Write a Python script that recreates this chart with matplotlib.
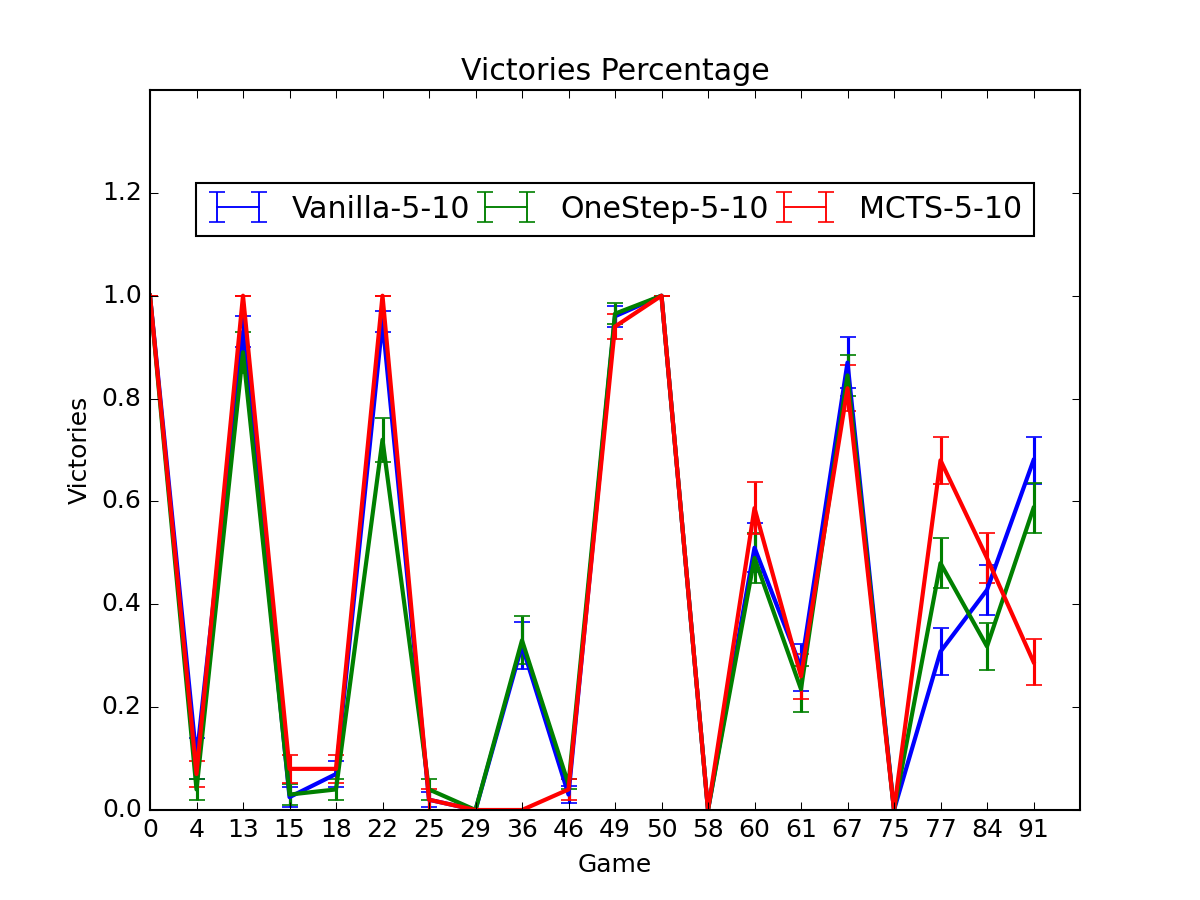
import numpy as np
import matplotlib
matplotlib.use("Agg")
import matplotlib.pyplot as plt
from matplotlib.lines import Line2D
from matplotlib.collections import LineCollection

plt.style.use("classic")

# ==============================
# DATOS
# ==============================

games = [0, 4, 13, 15, 18, 22, 25, 29, 36, 46, 49, 50, 58, 60, 61, 67, 75, 77, 84, 91]

vanilla = [1.0, 0.10, 0.93, 0.025, 0.07, 0.95, 0.02, 0.0, 0.32, 0.03, 0.96, 1.0,
           0.0, 0.51, 0.277, 0.87, 0.0, 0.308, 0.428, 0.68]
vanilla_err = [0.0, 0.04, 0.03, 0.02, 0.025, 0.02, 0.015, 0.0, 0.045, 0.017, 0.02, 0.0,
               0.0, 0.048, 0.045, 0.05, 0.0, 0.045, 0.049, 0.046]

onestep = [1.0, 0.04, 0.89, 0.03, 0.04, 0.72, 0.04, 0.0, 0.33, 0.05, 0.965, 1.0,
           0.0, 0.49, 0.235, 0.845, 0.0, 0.48, 0.318, 0.587]
onestep_err = [0.0, 0.02, 0.04, 0.02, 0.02, 0.043, 0.02, 0.0, 0.047, 0.01, 0.02, 0.0,
               0.0, 0.049, 0.045, 0.04, 0.0, 0.049, 0.046, 0.048]

mcts = [1.0, 0.07, 1.0, 0.08, 0.08, 1.0, 0.02, 0.0, 0.0, 0.04, 0.94, 1.0,
        0.0, 0.587, 0.26, 0.82, 0.0, 0.68, 0.49, 0.288]
mcts_err = [0.0, 0.026, 0.0, 0.027, 0.027, 0.0, 0.02, 0.0, 0.0, 0.02, 0.024, 0.0,
            0.0, 0.05, 0.044, 0.045, 0.0, 0.046, 0.049, 0.044]

# ==============================
# GRAFICA
# ==============================

x = np.arange(len(games))

fig = plt.figure(figsize=(8, 6))
ax = fig.add_subplot(111)

series = [
    (vanilla, vanilla_err, "b", "Vanilla-5-10"),
    (onestep, onestep_err, "g", "OneStep-5-10"),
    (mcts, mcts_err, "r", "MCTS-5-10"),
]

for vals, errs, color, label in series:
    ax.errorbar(x, vals, yerr=errs, color=color, linewidth=2,
                elinewidth=1.5, capsize=4, capthick=0.8, label=label)

ax.set_xticks(x)
ax.set_xticklabels([str(g) for g in games])
ax.set_xlim(0, 20)
ax.set_ylim(0, 1.4)
ax.set_yticks([0.0, 0.2, 0.4, 0.6, 0.8, 1.0, 1.2])

ax.set_xlabel("Game")
ax.set_ylabel("Victories")
ax.set_title("Victories Percentage")

leg = ax.legend(loc="upper center", bbox_to_anchor=(0.5, 0.892), ncol=3,
                fontsize="large", columnspacing=0.2)

# lineas finas en la leyenda
for obj in leg.findobj(Line2D) + leg.findobj(LineCollection):
    obj.set_linewidth(0.9)

fig.savefig("out.png", dpi=150)
